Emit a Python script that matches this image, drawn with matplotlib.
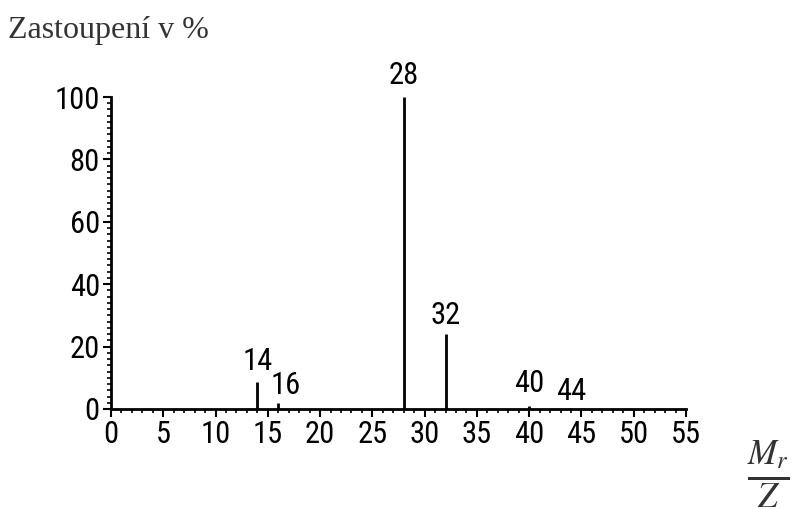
import matplotlib.pyplot as plt
from matplotlib.ticker import MultipleLocator

# mass spectrum of air (m/z vs. relative abundance)
mz = [14, 16, 28, 32, 40, 44]
abundance = [8.5, 2.0, 100, 24, 1.0, 0.4]
peak_labels = ['14', '16', '28', '32', '40', '44']

# label offsets in points (dx, dy) above each peak
label_offsets = [(0, 5), (5, 2), (0, 5), (0, 3), (0, 6), (0, 1)]

x_ticks = list(range(0, 56, 5))
y_ticks = [0, 20, 40, 60, 80, 100]

tick_font = ['Liberation Sans Narrow', 'Roboto Condensed', 'DejaVu Sans']
plt.rcParams['mathtext.fontset'] = 'stix'

fig = plt.figure(figsize=(7.95, 5.09), dpi=100)
ax = fig.add_axes([0.1396, 0.1965, 0.7233, 0.6129])

ax.vlines(mz, 0, abundance, color='black', linewidth=2.0)

for x, y, lab, (dx, dy) in zip(mz, abundance, peak_labels, label_offsets):
    ax.annotate(lab, (x, y), xytext=(dx, dy), textcoords='offset points',
                ha='center', va='bottom', fontsize=22, family=tick_font,
                fontstretch='condensed')

ax.set_xlim(0, 55)
ax.set_ylim(0, 100)
ax.set_xticks(x_ticks)
ax.set_yticks(y_ticks)
ax.xaxis.set_minor_locator(MultipleLocator(1))
ax.yaxis.set_minor_locator(MultipleLocator(2))

for s in ['top', 'right']:
    ax.spines[s].set_visible(False)
for s in ['left', 'bottom']:
    ax.spines[s].set_linewidth(2.0)

ax.tick_params(which='major', direction='out', length=6, width=1.5, pad=2)
ax.tick_params(which='minor', direction='out', length=3, width=1.2)
for lab in ax.get_xticklabels() + ax.get_yticklabels():
    lab.set_family(tick_font)
    lab.set_stretch('condensed')
    lab.set_fontsize(22)

fig.text(0.01, 0.925, 'Zastoupení v %', family='Liberation Serif',
         fontsize=23, color='#333333', va='baseline')
fig.text(0.967, 0.068, r'$\frac{M_r}{Z}$', fontsize=36, color='#333333',
         ha='center', va='center')

fig.savefig('out.png', dpi=100)
